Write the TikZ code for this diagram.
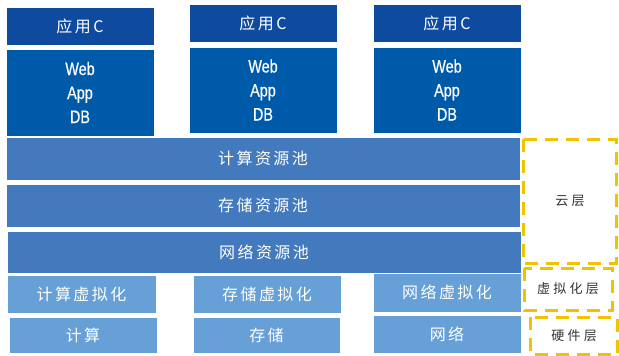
\documentclass[tikz,border=0pt]{standalone}
\usepackage{fontspec}
\newfontfamily\cjk[LetterSpace=15]{Noto Sans CJK SC}
\newfontfamily\cjkl[LetterSpace=25]{Noto Sans CJK SC}
\newfontfamily\narrow[FakeStretch=0.8,FakeBold=0.6]{Liberation Sans}
\definecolor{hdr}{RGB}{14,74,158}
\definecolor{bdy}{RGB}{0,90,170}
\definecolor{pool}{RGB}{67,122,190}
\definecolor{lite}{RGB}{102,160,215}
\definecolor{ylw}{RGB}{240,195,0}
\begin{document}
\begin{tikzpicture}[x=1pt,y=-1pt,
  box/.style={inner sep=0pt, outer sep=0pt, draw=white, line width=0.6pt, text=white, anchor=center},
  hdrbox/.style={box, fill=hdr, minimum width=148pt, minimum height=38pt, font=\cjk\fontsize{16}{18}\selectfont},
  bdybox/.style={box, fill=bdy, minimum width=148pt, minimum height=87pt, align=center, font=\narrow\fontsize{18}{24}\selectfont},
  poolbox/.style={box, fill=pool, minimum width=514pt, minimum height=43pt, font=\cjk\fontsize{16}{18}\selectfont},
  litebox/.style={box, fill=lite, minimum width=148pt, minimum height=38pt, font=\cjk\fontsize{16}{18}\selectfont},
  layer/.style={draw=ylw, line width=3pt, dash pattern=on 13pt off 8pt},
  layertxt/.style={inner sep=0pt, text=black!80, font=\cjkl\fontsize{13}{15}\selectfont}]
\useasboundingbox (0,0) rectangle (619,356);
% application stacks
\node[hdrbox] (h1) at (80,26) {应用C};
\node[bdybox] (b1) at (80,92.5) {Web\\App\\DB};
\node[hdrbox] (h2) at (263,23) {应用C};
\node[bdybox, minimum height=86pt] (b2) at (263,90) {Web\\App\\DB};
\node[hdrbox] (h3) at (447,23) {应用C};
\node[bdybox, minimum height=86pt] (b3) at (447,90) {Web\\App\\DB};
% pools
\node[poolbox] (p1) at (263,158.5) {计算资源池};
\node[poolbox] (p2) at (263,205.5) {存储资源池};
\node[poolbox, minimum height=42pt] (p3) at (264,252) {网络资源池};
% virtualization
\node[litebox, minimum width=149pt] (v1) at (81.5,294) {计算虚拟化};
\node[litebox] (v2) at (267,294) {存储虚拟化};
\node[litebox, minimum height=39pt] (v3) at (447,292.5) {网络虚拟化};
% hardware
\node[litebox, minimum height=36pt] (w1) at (83,335) {计算};
\node[litebox, minimum height=36pt, minimum width=147pt] (w2) at (266.5,335) {存储};
\node[litebox] (w3) at (447,334) {网络};
% layers
\draw[layer] (523,139) rectangle (616,263);
\draw[layer] (524,268) rectangle (612,310);
\draw[layer] (530,317) rectangle (617,354.5);
\node[layertxt] (l1) at (570,201) {云层};
\node[layertxt] (l2) at (568,289) {虚拟化层};
\node[layertxt] (l3) at (574,336) {硬件层};
\end{tikzpicture}
\end{document}
